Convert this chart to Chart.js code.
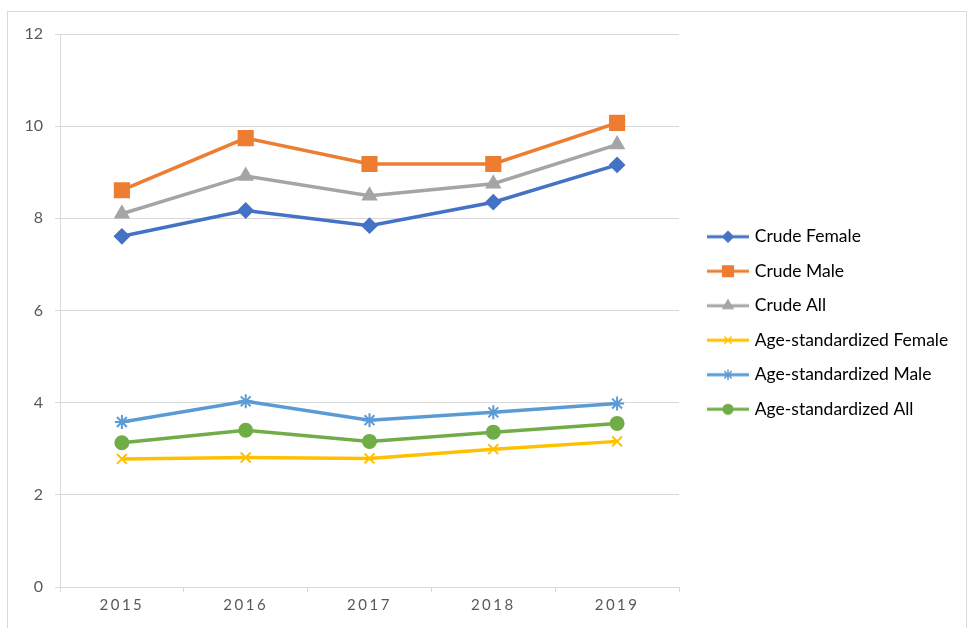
<!DOCTYPE html>
<html>
<head>
<meta charset="utf-8">
<script src="https://cdn.jsdelivr.net/npm/chart.js@4"></script>
<style>
  html, body { margin: 0; padding: 0; background: #fff; overflow: hidden; }
  #wrap { position: relative; width: 969px; height: 628px; }
  #frame { position: absolute; left: 7px; top: 11px; width: 958px; height: 640px; border: 1px solid #d9d9d9; }
  #chart { position: absolute; left: 0; top: 0; }
</style>
</head>
<body>
<div id="wrap">
  <div id="frame"></div>
  <canvas id="chart" width="969" height="628"></canvas>
</div>
<script>
const years = ['2015', '2016', '2017', '2018', '2019'];
const yTicks = [0, 2, 4, 6, 8, 10, 12];

const crudeFemale = [7.61, 8.17, 7.84, 8.35, 9.16];
const crudeMale = [8.61, 9.74, 9.18, 9.18, 10.07];
const crudeAll = [8.10, 8.92, 8.49, 8.75, 9.60];
const ageStdFemale = [2.78, 2.81, 2.79, 2.99, 3.16];
const ageStdMale = [3.58, 4.03, 3.62, 3.79, 3.98];
const ageStdAll = [3.13, 3.40, 3.16, 3.36, 3.55];

const seriesNames = ['Crude Female', 'Crude Male', 'Crude All',
  'Age-standardized Female', 'Age-standardized Male', 'Age-standardized All'];
const seriesData = [crudeFemale, crudeMale, crudeAll, ageStdFemale, ageStdMale, ageStdAll];
const colors = ['#4472C4', '#ED7D31', '#A5A5A5', '#FFC000', '#5B9BD5', '#70AD47'];
const markers = ['rectRot', 'rect', 'triangle', 'crossRot', 'star', 'circle'];
const markerSize = [7, 10, 7.5, 7, 7, 6.5];

const legendWidth = 290;

// line + marker swatch for the legend; left part left blank as a gap from the plot
function legendIcon(i) {
  const c = document.createElement('canvas');
  c.width = 56; c.height = 18;
  const g = c.getContext('2d');
  g.strokeStyle = colors[i];
  g.fillStyle = colors[i];
  g.lineWidth = 3;
  g.beginPath(); g.moveTo(14, 9); g.lineTo(56, 9); g.stroke();
  g.lineWidth = 1.5;
  Chart.helpers.drawPoint(g, {pointStyle: markers[i], radius: markerSize[i] * 0.75, rotation: 0, borderWidth: 1.5}, 35, 9);
  return c;
}

const datasets = seriesNames.map((name, i) => ({
  label: name,
  data: seriesData[i],
  borderColor: colors[i],
  backgroundColor: colors[i],
  borderWidth: 3.5,
  pointStyle: markers[i],
  pointRadius: markerSize[i],
  pointHoverRadius: markerSize[i],
  pointBorderWidth: 2,
  pointBorderColor: colors[i],
  pointBackgroundColor: colors[i],
  tension: 0
}));

const chartTweaks = {
  id: 'chartTweaks',
  afterInit(chart) {
    // the legend column is wider than the layout normally allows
    const lg = chart.legend;
    const fit = lg.fit;
    lg.fit = function() {
      fit.call(this);
      this.width = legendWidth;
    };
  },
  afterUpdate(chart) {
    // letter-spaced year labels on the category axis
    const s = chart.scales.x;
    if (s && !s._spaced) {
      const orig = s.drawLabels;
      s.drawLabels = function(area) {
        chart.ctx.save();
        chart.ctx.letterSpacing = '2.5px';
        orig.call(this, area);
        chart.ctx.restore();
      };
      s._spaced = true;
    }
  }
};

new Chart(document.getElementById('chart'), {
  type: 'line',
  data: { labels: years, datasets: datasets },
  plugins: [chartTweaks],
  options: {
    responsive: false,
    animation: false,
    layout: { padding: { top: 34, bottom: 16, left: 0, right: 0 } },
    plugins: {
      tooltip: { enabled: false },
      legend: {
        position: 'right',
        labels: {
          usePointStyle: true,
          pointStyleWidth: 50,
          padding: 17,
          color: '#404040',
          font: { family: 'Lato', size: 17.5 },
          generateLabels: () => seriesNames.map((name, i) => ({
            text: name,
            pointStyle: legendIcon(i),
            fillStyle: colors[i],
            strokeStyle: colors[i],
            lineWidth: 0,
            datasetIndex: i,
            hidden: false
          }))
        }
      }
    },
    scales: {
      x: {
        offset: true,
        afterFit: s => { s.height = 25; },
        grid: { offset: true, drawOnChartArea: false, drawTicks: true, tickLength: 5, color: '#d9d9d9' },
        border: { color: '#d9d9d9' },
        ticks: { color: '#595959', font: { family: 'Lato', size: 15 }, padding: 4, maxRotation: 0 }
      },
      y: {
        min: 0,
        max: 12,
        afterFit: s => { s.width = 60; },
        afterBuildTicks: s => { s.ticks = yTicks.map(v => ({ value: v })); },
        grid: { color: '#d9d9d9', tickLength: 5 },
        border: { color: '#d9d9d9' },
        ticks: { color: '#595959', font: { family: 'Lato', size: 16 }, padding: 12 }
      }
    }
  }
});
</script>
</body>
</html>
